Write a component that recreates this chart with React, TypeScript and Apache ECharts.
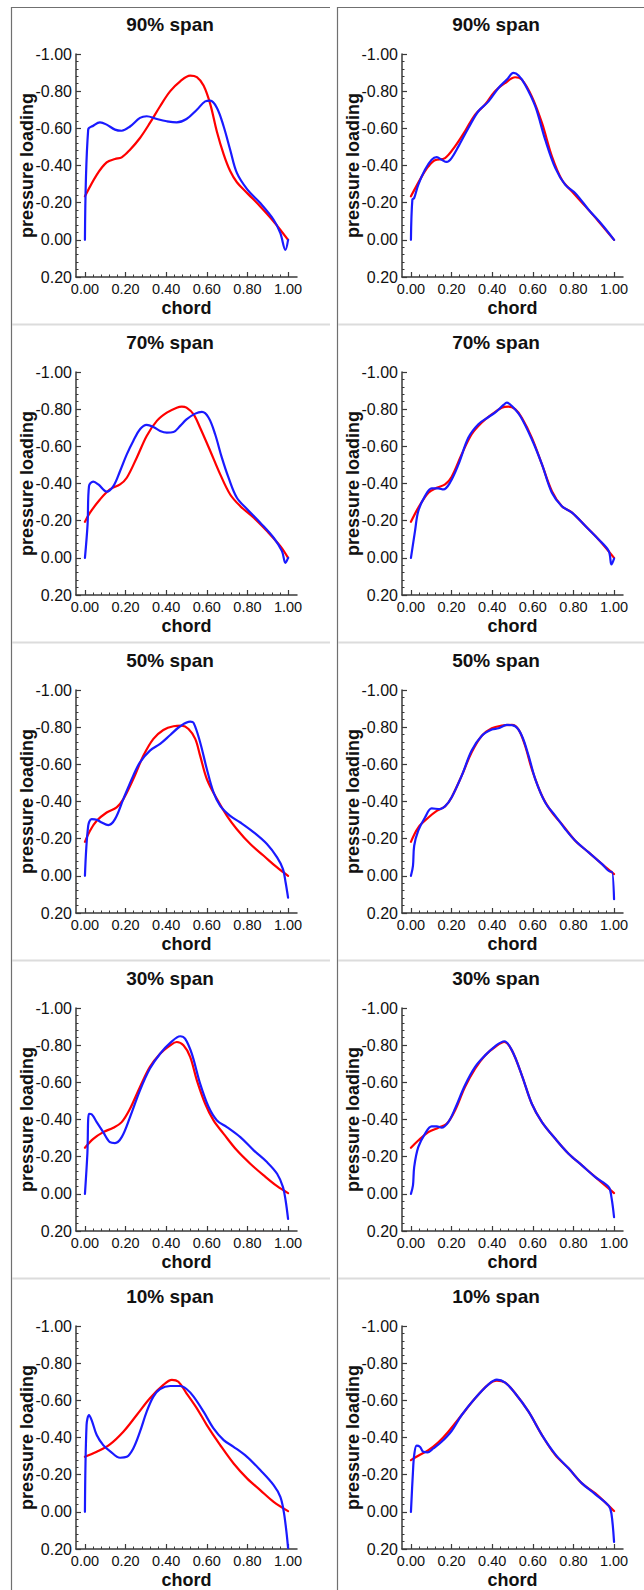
import React, { useEffect, useRef } from "react";
import * as echarts from "echarts";

// ---------- data ----------
const spanTitles = ["90% span", "70% span", "50% span", "30% span", "10% span"];
const xTickValues = [0, 0.2, 0.4, 0.6, 0.8, 1.0];
const yAxisMin = -1.0;
const yAxisMax = 0.2;
const yInterval = 0.2;
const xAxisName = "chord";
const yAxisName = "pressure loading";

const red90L = [[0,-0.234],[0.058,-0.35],[0.107,-0.417],[0.148,-0.435],[0.181,-0.444],[0.222,-0.485],[0.271,-0.548],[0.32,-0.629],[0.37,-0.719],[0.42,-0.8],[0.469,-0.853],[0.518,-0.884],[0.551,-0.875],[0.584,-0.83],[0.617,-0.73],[0.65,-0.58],[0.683,-0.46],[0.715,-0.37],[0.748,-0.31],[0.8,-0.25],[0.863,-0.18],[0.929,-0.099],[1.0,0]];
const blue90L = [[0,0],[0.016,-0.593],[0.041,-0.614],[0.074,-0.632],[0.107,-0.62],[0.148,-0.593],[0.181,-0.587],[0.222,-0.61],[0.271,-0.656],[0.304,-0.665],[0.354,-0.65],[0.403,-0.638],[0.452,-0.632],[0.5,-0.65],[0.551,-0.7],[0.592,-0.745],[0.617,-0.749],[0.65,-0.71],[0.683,-0.61],[0.715,-0.485],[0.748,-0.36],[0.8,-0.27],[0.863,-0.198],[0.929,-0.108],[0.962,-0.036],[0.987,0.054],[1.0,0]];
const red90R = [[0,-0.234],[0.053,-0.34],[0.086,-0.395],[0.118,-0.428],[0.168,-0.44],[0.217,-0.503],[0.266,-0.584],[0.316,-0.674],[0.365,-0.728],[0.414,-0.8],[0.464,-0.844],[0.513,-0.875],[0.546,-0.862],[0.595,-0.772],[0.645,-0.629],[0.694,-0.449],[0.743,-0.323],[0.793,-0.26],[0.859,-0.18],[0.924,-0.099],[1.0,0]];
const blue90R = [[0,0],[0.007,-0.216],[0.016,-0.225],[0.036,-0.296],[0.069,-0.377],[0.102,-0.431],[0.127,-0.445],[0.151,-0.431],[0.176,-0.419],[0.2,-0.44],[0.234,-0.503],[0.283,-0.602],[0.332,-0.692],[0.382,-0.745],[0.431,-0.817],[0.472,-0.862],[0.505,-0.898],[0.53,-0.884],[0.562,-0.835],[0.612,-0.719],[0.661,-0.539],[0.711,-0.386],[0.76,-0.296],[0.809,-0.251],[0.875,-0.162],[0.941,-0.081],[1.0,0]];

const red70L = [[0,-0.194],[0.025,-0.243],[0.074,-0.314],[0.123,-0.368],[0.173,-0.395],[0.206,-0.431],[0.255,-0.539],[0.304,-0.656],[0.354,-0.737],[0.403,-0.781],[0.452,-0.808],[0.477,-0.814],[0.5,-0.808],[0.535,-0.772],[0.567,-0.7],[0.617,-0.575],[0.666,-0.449],[0.715,-0.341],[0.765,-0.278],[0.831,-0.216],[0.896,-0.144],[0.962,-0.063],[1.0,0]];
const blue70L = [[0,0],[0.013,-0.18],[0.02,-0.386],[0.041,-0.41],[0.066,-0.395],[0.107,-0.356],[0.14,-0.386],[0.173,-0.467],[0.206,-0.557],[0.238,-0.629],[0.271,-0.692],[0.304,-0.715],[0.337,-0.704],[0.37,-0.683],[0.403,-0.674],[0.436,-0.677],[0.469,-0.71],[0.5,-0.745],[0.543,-0.776],[0.576,-0.785],[0.609,-0.754],[0.641,-0.665],[0.674,-0.539],[0.707,-0.431],[0.748,-0.323],[0.8,-0.26],[0.863,-0.189],[0.929,-0.108],[0.97,-0.036],[0.987,0.027],[1.0,0]];
const red70R = [[0,-0.194],[0.036,-0.269],[0.086,-0.35],[0.127,-0.377],[0.168,-0.395],[0.2,-0.435],[0.25,-0.557],[0.299,-0.665],[0.349,-0.728],[0.398,-0.772],[0.447,-0.808],[0.48,-0.814],[0.513,-0.8],[0.546,-0.754],[0.595,-0.647],[0.645,-0.503],[0.694,-0.359],[0.743,-0.278],[0.793,-0.243],[0.859,-0.171],[0.924,-0.099],[1.0,0]];
const blue70R = [[0,0],[0.02,-0.144],[0.036,-0.251],[0.069,-0.332],[0.102,-0.374],[0.135,-0.374],[0.16,-0.368],[0.192,-0.404],[0.234,-0.503],[0.283,-0.647],[0.332,-0.719],[0.382,-0.758],[0.414,-0.781],[0.456,-0.823],[0.472,-0.835],[0.497,-0.817],[0.538,-0.763],[0.595,-0.638],[0.645,-0.503],[0.694,-0.35],[0.743,-0.278],[0.793,-0.243],[0.859,-0.171],[0.924,-0.099],[0.974,-0.036],[0.987,0.036],[1.0,0.004]];

const red50L = [[0,-0.183],[0.025,-0.243],[0.058,-0.296],[0.107,-0.341],[0.156,-0.368],[0.189,-0.413],[0.238,-0.521],[0.288,-0.647],[0.337,-0.737],[0.386,-0.785],[0.436,-0.805],[0.477,-0.808],[0.51,-0.79],[0.543,-0.737],[0.567,-0.647],[0.6,-0.521],[0.65,-0.413],[0.699,-0.323],[0.748,-0.251],[0.814,-0.171],[0.88,-0.108],[0.946,-0.045],[1.0,0]];
const blue50L = [[0,0],[0.016,-0.269],[0.033,-0.305],[0.058,-0.302],[0.082,-0.287],[0.115,-0.273],[0.148,-0.305],[0.189,-0.413],[0.238,-0.539],[0.271,-0.611],[0.32,-0.674],[0.37,-0.71],[0.42,-0.758],[0.469,-0.805],[0.518,-0.83],[0.535,-0.823],[0.567,-0.719],[0.6,-0.575],[0.633,-0.449],[0.666,-0.377],[0.715,-0.323],[0.765,-0.287],[0.831,-0.234],[0.896,-0.171],[0.946,-0.099],[0.975,-0.036],[0.988,0.036],[1.0,0.117]];
const red50R = [[0,-0.183],[0.036,-0.26],[0.086,-0.314],[0.127,-0.35],[0.168,-0.374],[0.2,-0.422],[0.25,-0.539],[0.299,-0.665],[0.349,-0.754],[0.398,-0.794],[0.447,-0.808],[0.497,-0.812],[0.53,-0.787],[0.562,-0.7],[0.595,-0.575],[0.645,-0.431],[0.694,-0.341],[0.743,-0.278],[0.809,-0.189],[0.875,-0.126],[0.941,-0.063],[1.0,-0.009]];
const blue50R = [[0,0],[0.01,-0.054],[0.016,-0.162],[0.036,-0.243],[0.069,-0.314],[0.102,-0.363],[0.143,-0.359],[0.168,-0.374],[0.2,-0.422],[0.25,-0.539],[0.299,-0.674],[0.349,-0.754],[0.398,-0.787],[0.431,-0.794],[0.472,-0.812],[0.513,-0.805],[0.546,-0.754],[0.579,-0.647],[0.612,-0.521],[0.661,-0.395],[0.711,-0.323],[0.76,-0.251],[0.809,-0.189],[0.875,-0.126],[0.941,-0.063],[0.984,-0.022],[0.99,-0.022],[1.0,0.126]];

const red30L = [[0,-0.248],[0.041,-0.296],[0.09,-0.332],[0.14,-0.356],[0.181,-0.386],[0.222,-0.458],[0.271,-0.575],[0.32,-0.683],[0.37,-0.754],[0.42,-0.799],[0.452,-0.817],[0.485,-0.799],[0.518,-0.737],[0.551,-0.611],[0.592,-0.485],[0.633,-0.395],[0.683,-0.323],[0.748,-0.234],[0.814,-0.162],[0.88,-0.099],[0.946,-0.041],[1.0,-0.004]];
const blue30L = [[0,0],[0.012,-0.216],[0.02,-0.431],[0.033,-0.428],[0.058,-0.386],[0.09,-0.332],[0.123,-0.278],[0.148,-0.273],[0.181,-0.305],[0.222,-0.413],[0.271,-0.557],[0.32,-0.674],[0.37,-0.754],[0.42,-0.812],[0.469,-0.848],[0.493,-0.835],[0.526,-0.754],[0.567,-0.593],[0.609,-0.467],[0.65,-0.395],[0.699,-0.359],[0.765,-0.305],[0.831,-0.234],[0.896,-0.171],[0.946,-0.108],[0.975,-0.036],[0.988,0.036],[1.0,0.135]];
const red30R = [[0,-0.248],[0.036,-0.287],[0.086,-0.332],[0.135,-0.356],[0.176,-0.377],[0.217,-0.449],[0.266,-0.575],[0.316,-0.674],[0.365,-0.745],[0.414,-0.79],[0.46,-0.817],[0.497,-0.772],[0.546,-0.638],[0.595,-0.485],[0.645,-0.386],[0.711,-0.296],[0.776,-0.216],[0.842,-0.153],[0.908,-0.09],[1.0,-0.004]];
const blue30R = [[0,0],[0.01,-0.045],[0.016,-0.144],[0.036,-0.251],[0.069,-0.323],[0.102,-0.363],[0.127,-0.363],[0.151,-0.356],[0.184,-0.386],[0.217,-0.458],[0.266,-0.584],[0.316,-0.683],[0.365,-0.745],[0.414,-0.794],[0.46,-0.821],[0.497,-0.772],[0.546,-0.638],[0.595,-0.485],[0.645,-0.386],[0.711,-0.296],[0.776,-0.216],[0.842,-0.153],[0.908,-0.09],[0.974,-0.036],[0.987,0.018],[1.0,0.126]];

const red10L = [[0,-0.296],[0.058,-0.323],[0.123,-0.363],[0.189,-0.431],[0.255,-0.521],[0.32,-0.611],[0.386,-0.683],[0.428,-0.71],[0.46,-0.7],[0.5,-0.638],[0.551,-0.557],[0.6,-0.467],[0.666,-0.359],[0.732,-0.26],[0.798,-0.18],[0.863,-0.117],[0.929,-0.054],[1.0,-0.004]];
const blue10L = [[0,0],[0.008,-0.467],[0.02,-0.521],[0.033,-0.494],[0.058,-0.413],[0.09,-0.359],[0.123,-0.327],[0.173,-0.291],[0.206,-0.296],[0.238,-0.341],[0.271,-0.431],[0.304,-0.539],[0.337,-0.62],[0.37,-0.661],[0.42,-0.677],[0.469,-0.677],[0.5,-0.661],[0.535,-0.62],[0.584,-0.539],[0.633,-0.449],[0.683,-0.386],[0.732,-0.35],[0.798,-0.296],[0.863,-0.225],[0.929,-0.144],[0.962,-0.081],[0.979,0],[0.992,0.108],[1.0,0.194]];
const red10R = [[0,-0.278],[0.036,-0.302],[0.086,-0.332],[0.135,-0.374],[0.184,-0.431],[0.25,-0.521],[0.316,-0.611],[0.382,-0.686],[0.423,-0.706],[0.464,-0.695],[0.513,-0.638],[0.579,-0.539],[0.645,-0.413],[0.711,-0.305],[0.776,-0.234],[0.842,-0.153],[0.908,-0.099],[1.0,-0.004]];
const blue10R = [[0,0],[0.01,-0.216],[0.016,-0.305],[0.028,-0.356],[0.044,-0.35],[0.061,-0.323],[0.082,-0.32],[0.11,-0.341],[0.151,-0.377],[0.2,-0.435],[0.25,-0.521],[0.316,-0.611],[0.382,-0.686],[0.423,-0.711],[0.464,-0.695],[0.513,-0.638],[0.579,-0.539],[0.645,-0.413],[0.711,-0.309],[0.776,-0.234],[0.842,-0.153],[0.908,-0.094],[0.974,-0.032],[0.987,0.009],[1.0,0.162]];

const redByPanel = [red90L, red90R, red70L, red70R, red50L, red50R, red30L, red30R, red10L, red10R];
const blueByPanel = [blue90L, blue90R, blue70L, blue70R, blue50L, blue50R, blue30L, blue30R, blue10L, blue10R];

// ---------- layout ----------
const W = 644;
const H = 1590;
const ROW_H = 318;
const COL_BORDER_X = [11, 337];
const COL_RIGHT_X = [330, 644];
const GRID_DX = 65;
const GRID_TOP0 = 54;
const GRID_W = 221;
const GRID_H = 223;
const X_MIN = -0.044;
const X_MAX = 1.044;
const FONT = "'Liberation Sans', Arial, Helvetica, sans-serif";
const AXIS_COLOR = "#3a3a3a";
const RED = "#ff0000";
const BLUE = "#1a1aff";

const fmt = (v: number) => (Math.abs(v) < 1e-9 ? "0.00" : v.toFixed(2));

export default function App() {
  const ref = useRef<HTMLDivElement>(null);

  useEffect(() => {
    if (!ref.current) return;
    const chart = echarts.init(ref.current, undefined, { renderer: "svg" });

    const xMinor: number[] = [];
    for (let k = 0; k <= 25; k++) {
      if (k % 5 !== 0) xMinor.push(Math.round(k * 0.04 * 1000) / 1000);
    }

    const grids: any[] = [];
    const xAxes: any[] = [];
    const yAxes: any[] = [];
    const series: any[] = [];
    const graphics: any[] = [];

    for (let i = 0; i < 10; i++) {
      const row = Math.floor(i / 2);
      const col = i % 2;
      const gLeft = COL_BORDER_X[col] + GRID_DX;
      const gTop = GRID_TOP0 + row * ROW_H;
      grids.push({ left: gLeft, top: gTop, width: GRID_W, height: GRID_H, containLabel: false });

      xAxes.push({
        gridIndex: i,
        type: "value",
        position: "bottom",
        min: X_MIN,
        max: X_MAX,
        axisLine: { show: true, onZero: false, lineStyle: { color: AXIS_COLOR, width: 1.5 } },
        axisTick: { show: true, inside: true, length: 5, customValues: xTickValues, lineStyle: { color: AXIS_COLOR, width: 1.2 } },
        axisLabel: { show: true, customValues: xTickValues, formatter: fmt, fontSize: 14.5, color: "#111", fontFamily: FONT, margin: 4 },
        splitLine: { show: false },
      });
      xAxes.push({
        gridIndex: i,
        type: "value",
        position: "bottom",
        min: X_MIN,
        max: X_MAX,
        axisLine: { show: false, onZero: false },
        axisTick: { show: true, inside: true, length: 2.5, customValues: xMinor, lineStyle: { color: AXIS_COLOR, width: 1 } },
        axisLabel: { show: false },
        splitLine: { show: false },
      });
      yAxes.push({
        gridIndex: i,
        type: "value",
        inverse: true,
        min: yAxisMin,
        max: yAxisMax,
        interval: yInterval,
        axisLine: { show: true, onZero: false, lineStyle: { color: AXIS_COLOR, width: 1.5 } },
        axisTick: { show: true, inside: true, length: 5, lineStyle: { color: AXIS_COLOR, width: 1.2 } },
        minorTick: { show: true, splitNumber: 5, length: 2.5, lineStyle: { color: AXIS_COLOR, width: 1 } },
        axisLabel: { formatter: fmt, fontSize: 16, color: "#111", fontFamily: FONT, margin: 4 },
        splitLine: { show: false },
      });

      series.push({
        type: "line",
        xAxisIndex: 2 * i,
        yAxisIndex: i,
        data: redByPanel[i],
        showSymbol: false,
        smooth: 0.35,
        lineStyle: { color: RED, width: 2.2, cap: "round", join: "round" },
        itemStyle: { color: RED },
        silent: true,
      });
      series.push({
        type: "line",
        xAxisIndex: 2 * i,
        yAxisIndex: i,
        data: blueByPanel[i],
        showSymbol: false,
        smooth: 0.35,
        lineStyle: { color: BLUE, width: 2.2, cap: "round", join: "round" },
        itemStyle: { color: BLUE },
        silent: true,
      });

      graphics.push({
        type: "text",
        x: gLeft + 94,
        y: row * ROW_H + 24,
        style: { text: spanTitles[row], font: `bold 19px ${FONT}`, fill: "#111", align: "center", verticalAlign: "middle" },
      });
      graphics.push({
        type: "text",
        x: gLeft - 49,
        y: gTop + GRID_H / 2,
        rotation: Math.PI / 2,
        style: { text: yAxisName, font: `bold 18px ${FONT}`, fill: "#111", align: "center", verticalAlign: "middle" },
      });
      graphics.push({
        type: "text",
        x: gLeft + GRID_W / 2,
        y: gTop + 254,
        style: { text: xAxisName, font: `bold 18px ${FONT}`, fill: "#111", align: "center", verticalAlign: "middle" },
      });
    }

    // panel frames
    for (let c = 0; c < 2; c++) {
      const x0 = COL_BORDER_X[c];
      const x1 = COL_RIGHT_X[c];
      graphics.push({ type: "line", shape: { x1: x0 + 0.5, y1: 7, x2: x0 + 0.5, y2: H }, style: { stroke: "#707070", lineWidth: 1.2 } });
      graphics.push({ type: "line", shape: { x1: x0, y1: 7.5, x2: x1, y2: 7.5 }, style: { stroke: "#707070", lineWidth: 1.2 } });
      for (let r = 1; r < 5; r++) {
        const y = 7 + r * ROW_H - 0.5;
        graphics.push({ type: "line", shape: { x1: x0 + 1, y1: y, x2: x1, y2: y }, style: { stroke: "#dcdcdc", lineWidth: 2 } });
      }
    }

    chart.setOption({
      animation: false,
      backgroundColor: "#ffffff",
      grid: grids,
      xAxis: xAxes,
      yAxis: yAxes,
      series,
      graphic: graphics,
    });

    return () => chart.dispose();
  }, []);

  return <div ref={ref} style={{ position: "absolute", left: 0, top: 0, width: W, height: H }} />;
}
